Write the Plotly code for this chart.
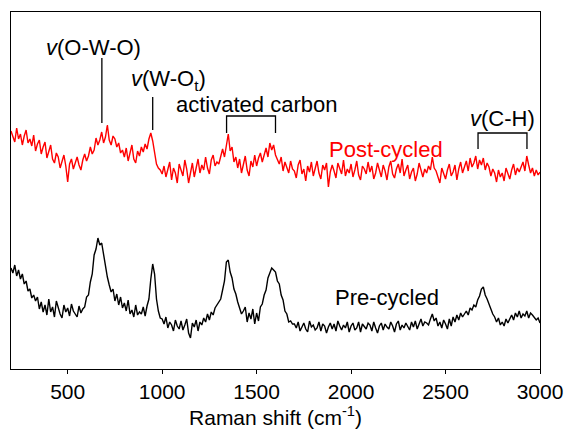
import plotly.graph_objects as go

# Raman shift axis (cm^-1), 10 cm^-1 step
shift = list(range(200, 3001, 10))

pre_cycled = [
    101, 96, 104, 93, 99, 90, 95, 85, 88, 78,
    80, 71, 74, 68, 72, 60, 67, 57, 64, 54,
    70, 57, 62, 52, 68, 60, 55, 51, 64, 57,
    61, 53, 65, 58, 55, 52, 63, 56, 60, 62,
    72, 74, 87, 95, 114, 120, 131, 124, 126, 113,
    104, 92, 84, 77, 80, 68, 75, 64, 72, 61,
    66, 58, 69, 55, 59, 52, 64, 54, 57, 55,
    62, 53, 63, 70, 90, 105, 95, 70, 58, 51,
    50, 45, 52, 41, 47, 44, 38, 49, 43, 40,
    48, 39, 44, 50, 36, 31, 46, 42, 49, 38,
    47, 44, 51, 47, 55, 49, 57, 54, 61, 64,
    67, 70, 79, 88, 107, 109, 97, 91, 80, 75,
    67, 60, 55, 58, 62, 47, 56, 50, 60, 45,
    56, 48, 62, 65, 74, 79, 91, 96, 101, 99,
    97, 88, 85, 74, 69, 58, 55, 47, 48, 45,
    45, 41, 47, 38, 43, 46, 40, 37, 48, 42,
    44, 39, 41, 47, 38, 45, 43, 36, 42, 46,
    40, 45, 38, 48, 43, 39, 44, 41, 47, 37,
    43, 46, 39, 41, 47, 37, 45, 42, 40, 46,
    44, 38, 47, 41, 36, 43, 46, 39, 45, 42,
    40, 47, 43, 37, 45, 48, 39, 44, 41, 46,
    43, 39, 47, 42, 48, 40, 45, 50, 43, 47,
    46, 44, 50, 55, 48, 51, 43, 47, 41, 49,
    45, 40, 50, 43, 52, 47, 54, 49, 56, 52,
    55, 58, 54, 61, 59, 64, 62, 69, 73, 80,
    82, 74, 70, 64, 60, 55, 52, 47, 51, 44,
    47, 43, 50, 46, 51, 54, 49, 56, 52, 58,
    51, 55, 53, 58, 51, 56, 54, 52, 49, 51,
    46,
]

post_cycled = [
    238, 232, 227, 241, 230, 235, 224, 233, 239, 226,
    230, 223, 234, 218, 225, 229, 215, 222, 227, 211,
    219, 224, 210, 206, 216, 212, 201, 209, 214, 203,
    187, 205, 210, 200, 207, 212, 204, 199, 209, 215,
    208, 213, 222, 215, 219, 231, 224, 229, 237, 226,
    232, 244, 229, 224, 233, 230, 222, 226, 216, 219,
    212, 221, 208, 215, 224, 210, 206, 218, 213, 222,
    217, 225, 220, 230, 236, 228, 214, 205, 201, 199,
    195, 203, 192, 199, 207, 189, 201, 196, 186, 205,
    198, 193, 209, 200, 186, 197, 206, 192, 203, 210,
    196, 204, 199, 212, 201, 195, 209, 214, 203, 207,
    205, 214, 220, 212, 226, 235, 218, 222, 207, 212,
    201, 210, 196, 205, 213, 199, 193, 208, 202, 214,
    203, 211, 216, 207, 214, 221, 212, 226, 219, 224,
    214, 209, 205, 212, 198, 207, 201, 196, 208, 200,
    198, 191, 204, 209, 195, 200, 188, 203, 197, 207,
    193, 201, 208, 196, 190, 204, 199, 206, 182, 197,
    204, 198, 191, 206, 201, 195, 209, 193, 200, 196,
    205, 192, 199, 208, 194, 189, 203, 200, 195, 207,
    197, 203, 190, 196, 206, 199, 192, 204, 198, 189,
    202, 208, 195, 191, 200, 205, 196, 210, 193, 199,
    204, 190, 197, 201, 188, 195, 206, 199, 192, 200,
    196, 203, 199, 212, 201, 198, 192, 186, 201, 195,
    190, 199, 205, 193, 197, 204, 189, 200, 207, 196,
    203, 208, 198, 211, 202, 206, 213, 200, 209, 204,
    211, 199, 206, 202, 193, 200, 196, 187, 199, 192,
    196, 188, 201, 195, 190, 199, 205, 194, 201, 197,
    203, 207, 198, 213, 204, 196, 201, 193, 199, 194,
    197,
]

x_ticks = [500, 1000, 1500, 2000, 2500, 3000]

# Band assignments: single marker lines (x, y_top, y_bottom)
single_marks_x = [681, 950]
single_marks_top = [311, 272]
single_marks_bottom = [246, 239]
# Bracket assignments (x_left, x_right, y_top, y_leg)
bracket_left = [1341, 2672]
bracket_right = [1600, 2931]
bracket_top = [253, 236]
bracket_leg = [236, 220]

# Text labels
label_text = ["<i>v</i>(O-W-O)", "<i>v</i>(W-O<sub>t</sub>)", "activated carbon",
              "<i>v</i>(C-H)", "Post-cycled", "Pre-cycled"]
label_x = [638, 1032, 1499, 2801, 2183, 2188]
label_y = [322, 289, 265, 251, 220, 72]
label_color = ["black", "black", "black", "black", "#ff0000", "black"]

FONT = "Liberation Sans, Arial, sans-serif"

fig = go.Figure()
fig.add_trace(go.Scatter(x=shift, y=post_cycled, mode="lines",
                         line=dict(color="#ff0000", width=1.4), showlegend=False))
fig.add_trace(go.Scatter(x=shift, y=pre_cycled, mode="lines",
                         line=dict(color="black", width=1.4), showlegend=False))

shapes = []
for xm, yt, yb in zip(single_marks_x, single_marks_top, single_marks_bottom):
    shapes.append(dict(type="line", xref="x", yref="y", x0=xm, x1=xm, y0=yb, y1=yt,
                       line=dict(color="black", width=1.3)))
for xl, xr, yt, yl in zip(bracket_left, bracket_right, bracket_top, bracket_leg):
    shapes.append(dict(type="path", xref="x", yref="y",
                       path=f"M {xl} {yl} L {xl} {yt} L {xr} {yt} L {xr} {yl}",
                       line=dict(color="black", width=1.3)))

annotations = []
for t, ax_, ay_, c in zip(label_text, label_x, label_y, label_color):
    annotations.append(dict(text=t, x=ax_, y=ay_, xref="x", yref="y", showarrow=False,
                            xanchor="center", yanchor="middle",
                            font=dict(family=FONT, size=22, color=c)))

fig.update_layout(
    width=568, height=432,
    margin=dict(l=11, r=28, t=12, b=63, autoexpand=False),
    paper_bgcolor="white", plot_bgcolor="white",
    shapes=shapes, annotations=annotations,
    font=dict(family=FONT, color="black"),
    xaxis=dict(range=[200, 3000], tickvals=x_ticks, ticks="outside", ticklen=4,
               tickwidth=1.2, tickcolor="black", showline=True, linecolor="black",
               linewidth=1.3, mirror=True, showgrid=False, zeroline=False,
               automargin=False,
               tickfont=dict(family=FONT, size=21, color="black"),
               title=dict(text="Raman shift (cm<sup>-1</sup>)", standoff=6,
                          font=dict(family=FONT, size=21, color="black"))),
    yaxis=dict(range=[0, 357], showticklabels=False, ticks="", showline=True,
               linecolor="black", linewidth=1.3, mirror=True, showgrid=False,
               zeroline=False, automargin=False),
)

fig.write_html("out.html")
